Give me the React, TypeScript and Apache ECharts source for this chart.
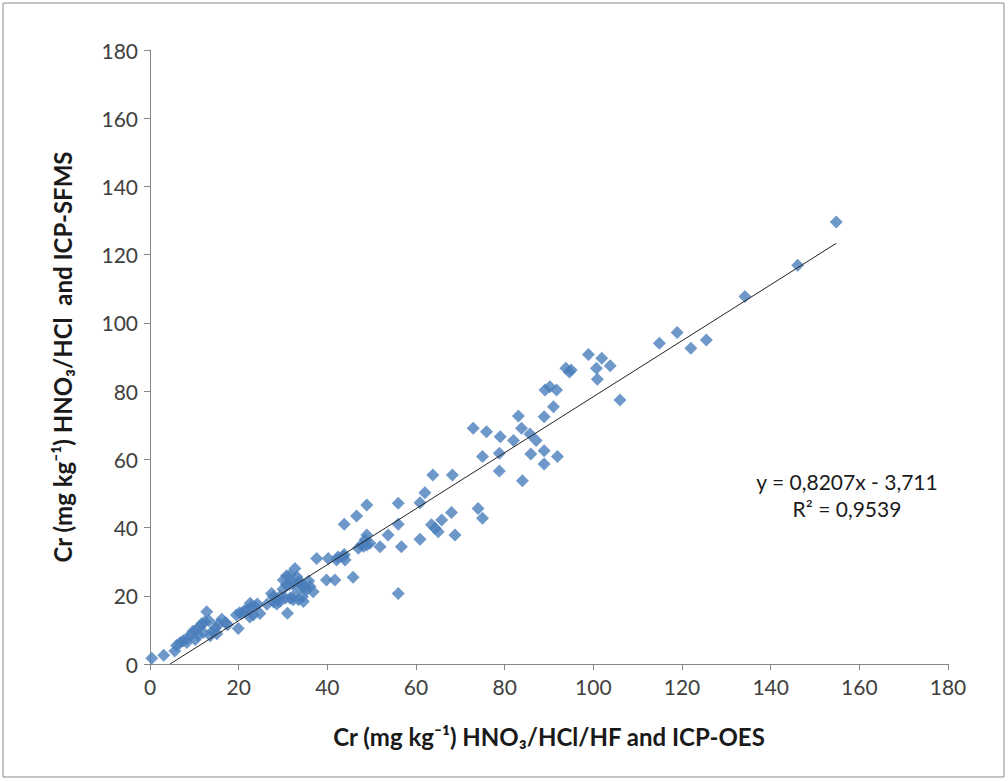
import React, { useEffect, useRef } from "react";
import * as echarts from "echarts";

const xTicks = [0, 20, 40, 60, 80, 100, 120, 140, 160, 180];
const yTicks = [0, 20, 40, 60, 80, 100, 120, 140, 160, 180];

const crOES = [
  0.4, 3.1, 5.6, 6, 6.8, 7.5, 8.3, 8.3, 9.3, 9.7, 10.2, 10.4, 10.9, 11.2, 11.7, 12, 12.4, 12.8, 13.3, 13.6, 14.1, 14.8, 15.1, 15.5, 16.2, 17, 17.5,
  19.9, 19.5, 20.2, 20.7, 21.3, 21.8, 22.6, 22.5, 22.9, 23.3, 23.7, 24.2, 24.8,
  26.4, 27.4, 27.8, 27.9, 28.6, 28.6, 29.3, 29.3, 30, 30.1, 30.5, 30.8, 30.8, 31, 31.5, 31.6, 31.6, 32.2, 32.3, 32.3, 32.7, 33.1, 33.4, 33.5, 33.5, 34, 34.4, 34.6, 34.6, 35.1, 35.3, 35.8, 36.1, 36.8, 37.6,
  39.8, 40.2, 41.7, 42.1, 42.4, 43.6, 43.8, 44, 43.8, 45.8, 46.6, 47, 47.7, 48.2, 48.5, 48.9, 48.9, 48.9, 49.6, 51.9, 53.7, 56, 56, 56, 56.7, 60.9, 60.9, 62, 63.8, 63.5, 64.3, 65, 65.8, 68, 68.2, 68.8,
  72.9, 74, 75, 75, 75.9, 78.8, 78.8, 79, 82, 83.1, 83.8, 84, 85.7, 85.9, 87.1, 88.9, 88.9, 88.9, 89.1, 90.2, 91, 91.7, 91.9, 93.8, 94.6, 95, 98.9, 100.7, 100.9, 101.9, 103.8, 106, 114.9, 118.9, 122, 125.5, 134.2, 146.1, 154.8,
];

const crSFMS = [
  1.7, 2.6, 3.8, 5.4, 6.2, 6.8, 6.3, 7.5, 8.6, 9.6, 7.2, 10, 8.4, 10.9, 11.9, 9.2, 12.4, 15.3, 12.7, 8.3, 9.6, 10.6, 8.9, 11.7, 13.1, 12.2, 11.5,
  10.4, 14.4, 15, 14.9, 15.6, 15.8, 17.8, 13.8, 16.8, 14.4, 16.8, 17.6, 14.8,
  17.5, 20.7, 19.7, 18.2, 18.8, 17.6, 18.3, 19.7, 21.9, 24.6, 19.3, 23.2, 25.9, 14.9, 23.3, 26.1, 19.3, 19.7, 23.7, 18.8, 28, 25.6, 21.9, 24.1, 18.8, 24, 19.7, 22.7, 18.3, 22.6, 21.7, 24.3, 22.7, 21.2, 30.9,
  24.6, 30.9, 24.6, 30.5, 31.4, 31.5, 32.1, 30.5, 41, 25.4, 43.4, 33.9, 34.9, 34.5, 36.4, 37.8, 34.9, 46.6, 35.4, 34.4, 37.8, 47.1, 41, 20.7, 34.4, 36.6, 47.3, 50.2, 55.4, 40.8, 39.8, 38.8, 42.2, 44.4, 55.4, 37.8,
  69.1, 45.6, 42.7, 60.8, 68.1, 61.8, 56.6, 66.6, 65.5, 72.7, 69.1, 53.7, 67.4, 61.6, 65.5, 62.5, 58.6, 72.5, 80.3, 81.3, 75.4, 80.3, 60.8, 86.7, 85.6, 86.2, 90.7, 86.7, 83.5, 89.6, 87.4, 77.4, 94, 97.2, 92.6, 95, 107.7, 116.9, 129.6,
];

const slope = 0.8207;
const intercept = -3.711;
const trendStartX = -intercept / slope;
const trendEndX = 154.8;
const equationLines = ["y = 0,8207x - 3,711", "R² = 0,9539"];

export default function App() {
  const ref = useRef<HTMLDivElement>(null);
  useEffect(() => {
    if (!ref.current) return;
    const chart = echarts.init(ref.current, null, { renderer: "svg" });
    const points = crOES.map((x, i) => [x, crSFMS[i]]);
    const trend = [trendStartX, trendEndX].map((x) => [x, slope * x + intercept]);
    const axisLabelStyle = { color: "#404040", fontSize: 21, fontFamily: "Lato" };
    chart.setOption({
      animation: false,
      backgroundColor: "#ffffff",
      grid: { left: 150, right: 60, top: 50, bottom: 117, containLabel: false },
      xAxis: {
        type: "value",
        min: xTicks[0],
        max: xTicks[xTicks.length - 1],
        interval: 20,
        splitLine: { show: false },
        axisLine: { show: true, lineStyle: { color: "#868686", width: 1 } },
        axisTick: { show: true, inside: false, length: 6, lineStyle: { color: "#868686" } },
        axisLabel: { ...axisLabelStyle, margin: 12 },
        name: "Cr (mg kg⁻¹) HNO₃/HCl/HF and ICP-OES",
        nameLocation: "middle",
        nameGap: 60,
        nameTextStyle: { fontSize: 24, fontWeight: "bold", color: "#1a1a1a", fontFamily: "Lato" },
      },
      yAxis: {
        type: "value",
        min: yTicks[0],
        max: yTicks[yTicks.length - 1],
        interval: 20,
        splitLine: { show: false },
        axisLine: { show: true, lineStyle: { color: "#868686", width: 1 } },
        axisTick: { show: true, inside: false, length: 6, lineStyle: { color: "#868686" } },
        axisLabel: { ...axisLabelStyle, margin: 12 },
        name: "Cr (mg kg⁻¹) HNO₃/HCl  and ICP-SFMS",
        nameLocation: "middle",
        nameRotate: 90,
        nameGap: 76,
        nameTextStyle: { fontSize: 24, fontWeight: "bold", color: "#1a1a1a", fontFamily: "Lato" },
      },
      series: [
        {
          type: "scatter",
          data: points,
          symbol: "diamond",
          symbolSize: 13,
          itemStyle: { color: "#4A7EBB" },
          z: 2,
        },
        {
          type: "line",
          data: trend,
          symbol: "none",
          lineStyle: { color: "#222222", width: 1 },
          z: 3,
        },
      ],
      graphic: [
        {
          type: "rect",
          shape: { x: 3, y: 3, width: 1001, height: 774 },
          style: { fill: "none", stroke: "#8c8c8c", lineWidth: 1 },
          silent: true,
        },
        {
          type: "text",
          x: 847,
          y: 481,
          style: { text: equationLines[0], fontSize: 21, fontFamily: "Lato", fill: "#1a1a1a", align: "center", verticalAlign: "middle" },
        },
        {
          type: "text",
          x: 847,
          y: 508,
          style: { text: equationLines[1], fontSize: 21, fontFamily: "Lato", fill: "#1a1a1a", align: "center", verticalAlign: "middle" },
        },
      ],
    });
    return () => chart.dispose();
  }, []);
  return <div ref={ref} style={{ position: "absolute", left: 0, top: 0, width: 1008, height: 781 }} />;
}
